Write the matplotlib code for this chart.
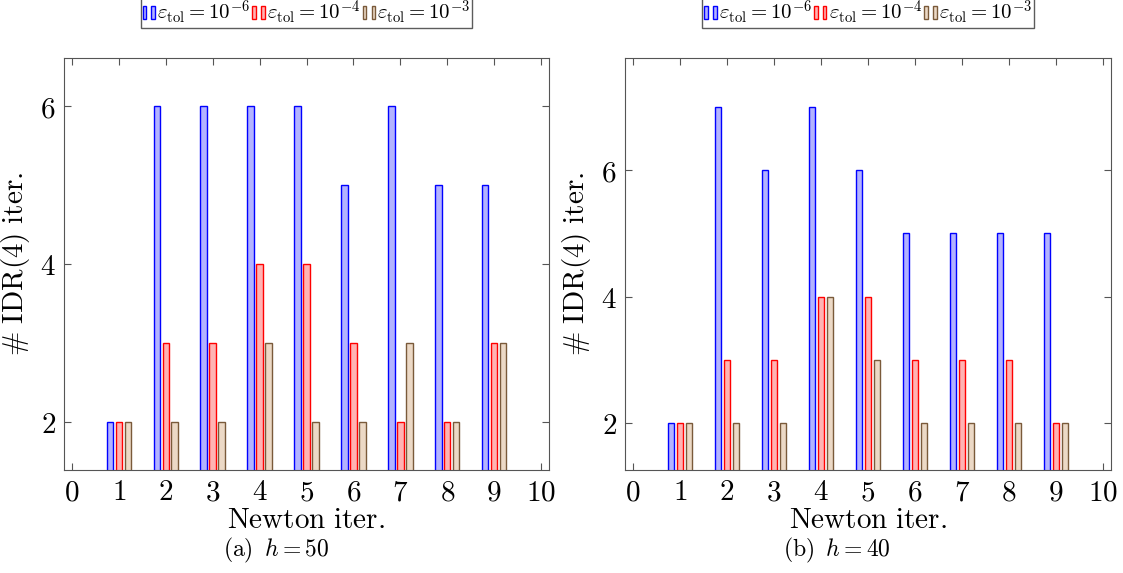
import matplotlib
matplotlib.use('Agg')
import matplotlib.pyplot as plt
from matplotlib.legend_handler import HandlerTuple
from matplotlib.patches import Rectangle
import numpy as np

plt.rcParams['mathtext.fontset'] = 'cm'
plt.rcParams['font.family'] = 'DejaVu Serif'

newton = np.arange(1, 10)
labels = [r'$\varepsilon_{\mathrm{tol}} = 10^{-6}$',
          r'$\varepsilon_{\mathrm{tol}} = 10^{-4}$',
          r'$\varepsilon_{\mathrm{tol}} = 10^{-3}$']

# h = 50
h50_tol6 = [2, 6, 6, 6, 6, 5, 6, 5, 5]
h50_tol4 = [2, 3, 3, 4, 4, 3, 2, 2, 3]
h50_tol3 = [2, 2, 2, 3, 2, 2, 3, 2, 3]
# h = 40
h40_tol6 = [2, 7, 6, 7, 6, 5, 5, 5, 5]
h40_tol4 = [2, 3, 3, 4, 4, 3, 3, 3, 2]
h40_tol3 = [2, 2, 2, 4, 3, 2, 2, 2, 2]

edge = ['#0000ff', '#ff0000', '#7a5a3a']
fill = ['#b3b3ff', '#ffb3b3', '#ecd9c6']

fig = plt.figure(figsize=(11.23, 5.73), dpi=100)
W, H = 1123, 573
ax1 = fig.add_axes([64/W, (H-470)/H, 485/W, 412/H])
ax2 = fig.add_axes([625/W, (H-470)/H, 486/W, 412/H])

panels = [(ax1, [h50_tol6, h50_tol4, h50_tol3], (1.39, 6.61), r'$\mathrm{(a)}\;\;h = 50$'),
          (ax2, [h40_tol6, h40_tol4, h40_tol3], (1.26, 7.77), r'$\mathrm{(b)}\;\;h = 40$')]

w = 0.14
offs = [-0.19, 0.0, 0.19]
for ax, series, ylim, cap in panels:
    ax.set_axisbelow(True)
    for k, vals in enumerate(series):
        ax.bar(newton + offs[k], vals, width=w, color=fill[k], edgecolor=edge[k],
               linewidth=1.0)
    ax.set_xlim(-0.17, 10.17)
    ax.set_ylim(*ylim)
    ax.set_xticks(range(0, 11))
    ax.set_xticklabels([f'${i}$' for i in range(0, 11)])
    ax.set_yticks([2, 4, 6])
    ax.set_yticklabels(['$2$', '$4$', '$6$'])
    ax.tick_params(direction='in', top=True, right=True, labelsize=21,
                   length=5, color='#555555', pad=6)
    for s in ax.spines.values():
        s.set_color('#555555')
    ax.set_xlabel(r'$\mathrm{Newton\ iter.}$', fontsize=21, labelpad=0)
    ax.set_ylabel(r'$\#\ \mathrm{IDR(4)\ iter.}$', fontsize=21, labelpad=6)
    ax.text(0.437, -80/412, cap, transform=ax.transAxes, ha='center', va='center', fontsize=17)

    handles = []
    for k in range(3):
        pa = Rectangle((0, 0), 1, 1, facecolor=fill[k], edgecolor=edge[k], linewidth=1.0)
        pb = Rectangle((0, 0), 1, 1, facecolor=fill[k], edgecolor=edge[k], linewidth=1.0)
        handles.append((pa, pb))
    ax.legend(handles, labels, loc='lower center', bbox_to_anchor=(0.5, 1 + 30/412), ncol=3,
              fontsize=15, frameon=True, fancybox=False, edgecolor='#333333',
              handler_map={tuple: HandlerTuple(ndivide=None, pad=0.25)},
              handlelength=0.6, handleheight=0.6, handletextpad=0.1, columnspacing=0.1,
              borderpad=0.08, borderaxespad=0.0)

fig.savefig('out.png', dpi=100)
